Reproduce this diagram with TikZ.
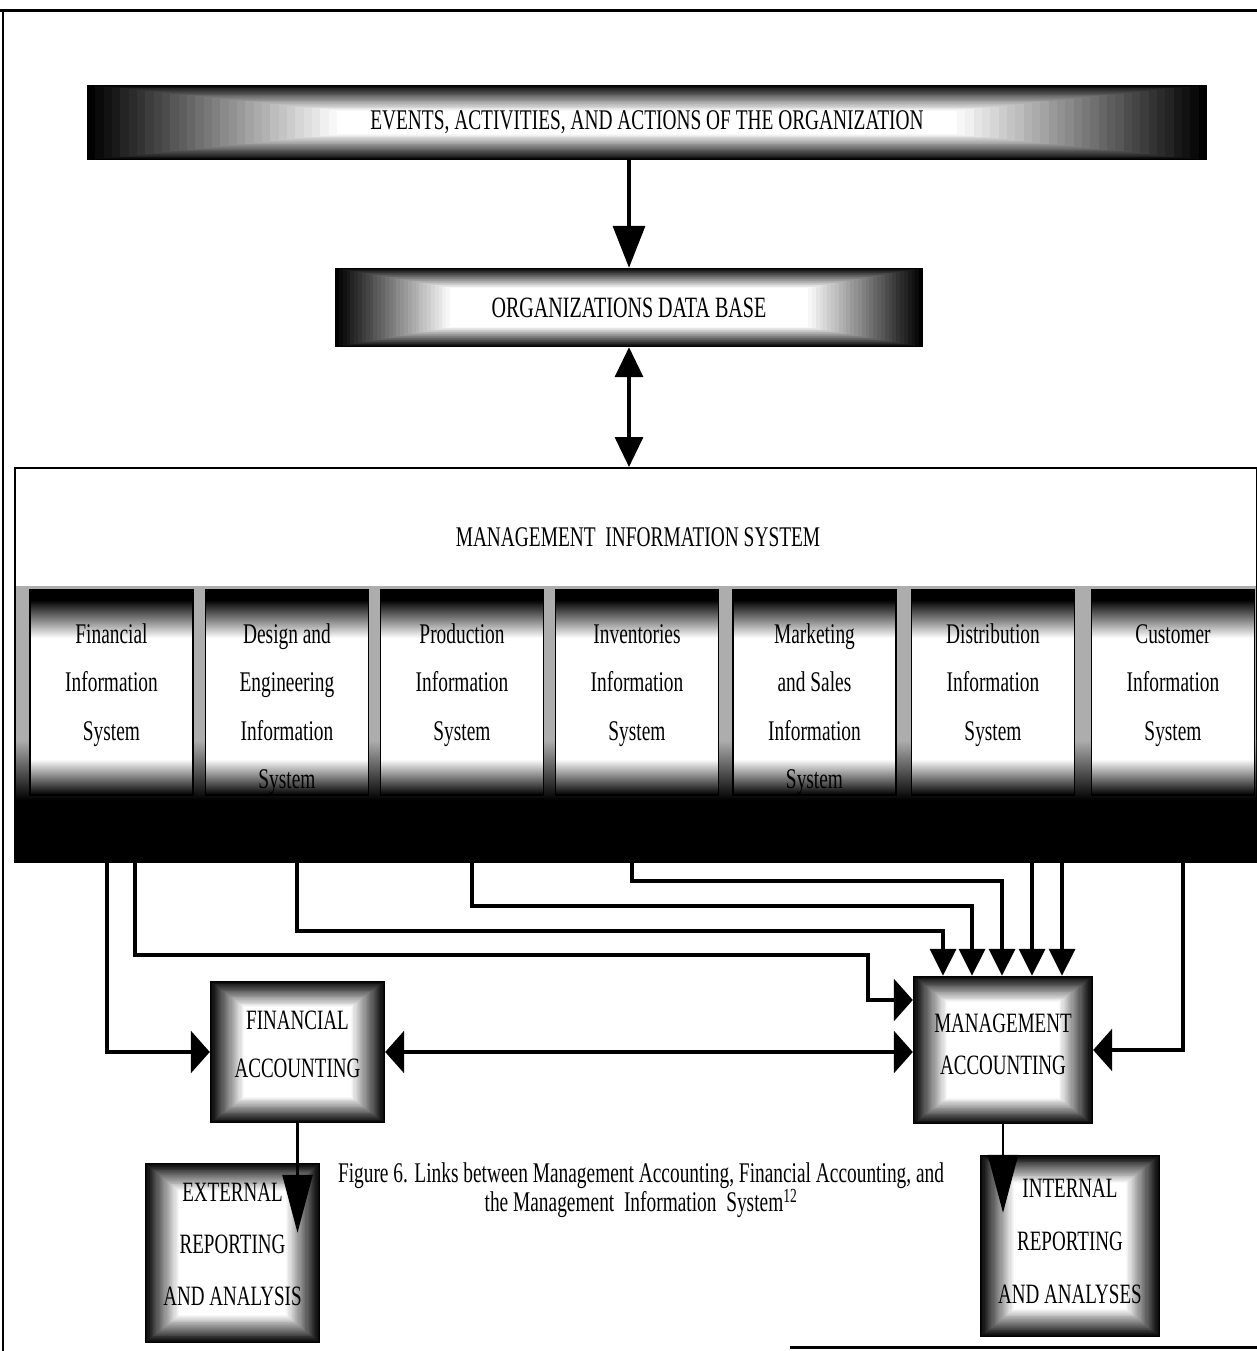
\documentclass[tikz,border=0pt]{standalone}
\usepackage{fontspec}
\setmainfont{Liberation Serif}
\newfontfamily\cf[FakeStretch=0.68]{Liberation Serif}
\usetikzlibrary{arrows.meta,calc}
\newcommand\sstxt[1]{\parbox[c][205pt][t]{158pt}{\centering\cf\fontsize{28.5}{48.5}\selectfont\rule{0pt}{53pt}#1}}
\tikzset{
  tipbig/.tip={Triangle[width=32pt,length=42pt]},
  tipdb/.tip={Triangle[width=28pt,length=30pt]},
  tiptop/.tip={Triangle[width=26pt,length=27pt]},
  tipside/.tip={Triangle[width=42pt,length=19pt]},
  tiprep/.tip={Triangle[width=30pt,length=58pt]},
}
\begin{document}
\begin{tikzpicture}[x=1pt,y=1pt,
  conn/.style={line width=3.5pt},
  glow/.style 2 args={fill=black, inner sep=0pt, path picture={
    \foreach \i in {0,...,30}{
      \pgfmathtruncatemacro\c{100-\i*100/30}
      \fill[black!\c] ($(path picture bounding box.north west)+({\i*#1/30*1pt},{-\i*#2/30*1pt})$) rectangle ($(path picture bounding box.south east)+({-\i*#1/30*1pt},{\i*#2/30*1pt})$);
    }}},
  subsys/.style={draw=black, line width=1.2pt, fill=white, inner sep=0pt,
    minimum width=163pt, minimum height=205pt,
    path picture={
      \fill[black] (path picture bounding box.north west) rectangle ([yshift=-10pt]path picture bounding box.north east);
      \shade[top color=black, bottom color=white] ([yshift=-10pt]path picture bounding box.north west) rectangle ([yshift=-48pt]path picture bounding box.north east);
      \shade[top color=white, bottom color=black] ([yshift=36pt]path picture bounding box.south west) rectangle (path picture bounding box.south east);
    }},
  boxtxt/.style={align=center, font=\cf\fontsize{28}{48}\selectfont},
]
\useasboundingbox (0,0) rectangle (1257,-1351);
% page frame
\draw[line width=3pt] (0,-11) -- (1257,-11);
\draw[line width=1.5pt] (3,-11) -- (3,-1351);
\draw[line width=3pt] (790,-1347) -- (1257,-1347);

% top boxes
\node[glow={250}{26}, minimum width=1120pt, minimum height=75pt] (ev) at (647,-122.5)
  {\cf\fontsize{28.5}{34}\selectfont\raisebox{-8pt}{EVENTS, ACTIVITIES, AND ACTIONS OF THE ORGANIZATION}};
\node[glow={115}{20}, minimum width=588pt, minimum height=79pt] (db) at (629,-307.5)
  {\cf\fontsize{29.5}{34}\selectfont\raisebox{-6pt}{ORGANIZATIONS DATA BASE}};

% management information system frame
\node[draw, line width=2pt, minimum width=1242pt, minimum height=394pt, inner sep=0pt] (mis) at (636,-665) {};
\fill[black!32] (16,-586) rectangle (1256,-790);
\shade[top color=black!32, bottom color=black] (16,-740) rectangle (1256,-800);
\fill[black] (16,-800) rectangle (1256,-861);
\node[font=\cf\fontsize{28.5}{34}\selectfont] (mistitle) at (638,-537) {MANAGEMENT\ \ INFORMATION SYSTEM};

\node[subsys] (s1) at (111.5,-692.5) {\sstxt{Financial\\Information\\System}};
\node[subsys] (s2) at (287,-692.5) {\sstxt{Design and\\Engineering\\Information\\System}};
\node[subsys] (s3) at (462,-692.5) {\sstxt{Production\\Information\\System}};
\node[subsys] (s4) at (637,-692.5) {\sstxt{Inventories\\Information\\System}};
\node[subsys] (s5) at (814.5,-692.5) {\sstxt{Marketing\\and Sales\\Information\\System}};
\node[subsys] (s6) at (993,-692.5) {\sstxt{Distribution\\Information\\System}};
\node[subsys] (s7) at (1173,-692.5) {\sstxt{Customer\\Information\\System}};

% accounting boxes
\node[glow={34}{26}, minimum width=175pt, minimum height=142pt, boxtxt, text depth=16pt] (fa) at (297.5,-1052) {FINANCIAL\\ACCOUNTING};
\node[glow={34}{26}, minimum width=180pt, minimum height=148pt, boxtxt, font=\cf\fontsize{28}{42}\selectfont, text depth=12pt] (ma) at (1003,-1050) {MANAGEMENT\\ACCOUNTING};
\node[glow={34}{28}, minimum width=175pt, minimum height=180pt, boxtxt, font=\cf\fontsize{28}{52}\selectfont, text depth=18pt] (erep) at (232.5,-1253) {EXTERNAL\\REPORTING\\AND ANALYSIS};
\node[glow={34}{28}, minimum width=180pt, minimum height=182pt, boxtxt, font=\cf\fontsize{28}{53}\selectfont, text depth=10pt] (irep) at (1070,-1246) {INTERNAL\\REPORTING\\AND ANALYSES};

% caption
\node[align=center, font=\cf\fontsize{28.5}{29}\selectfont] (cap) at (641,-1190)
  {Figure 6. Links between Management Accounting, Financial Accounting, and\\the Management\ \ Information\ \ System\textsuperscript{12}};

% start points on the MIS band
\coordinate (pA) at (107,-862);
\coordinate (pB) at (135,-862);
\coordinate (pC) at (297,-862);
\coordinate (pD) at (472,-862);
\coordinate (pE) at (632,-862);
\coordinate (pF) at (1032,-862);
\coordinate (pG) at (1062,-862);
\coordinate (pH) at (1183,-862);

% connectors
\draw[conn,-tipbig] (db.north |- ev.south) -- (db.north);
\draw[conn,tipdb-tipdb] (db.south) -- (db.south |- mis.north);

\draw[conn,-tipside] (pA) |- (fa.west);
\draw[conn,-tipside] (pB) |- (868,-955) |- ([yshift=50pt]ma.west);
\draw[conn,-tiptop] (pC) |- ($(ma.north)+(-60,45)$) -- ([xshift=-60pt]ma.north);
\draw[conn,-tiptop] (pD) |- ($(ma.north)+(-31,70)$) -- ([xshift=-31pt]ma.north);
\draw[conn,-tiptop] (pE) |- ($(ma.north)+(-1,95)$) -- ([xshift=-1pt]ma.north);
\draw[conn,-tiptop] (pF) -- ([xshift=29pt]ma.north);
\draw[conn,-tiptop] (pG) -- ([xshift=59pt]ma.north);
\draw[conn,-tipside] (pH) |- (ma.east);
\draw[conn,tipside-tipside] (fa.east) -- (fa.east -| ma.west);

\draw[line width=2.5pt,-tiprep,shorten >=-70pt] (fa.south) -- (fa.south |- erep.north);
\draw[line width=2.5pt,-tiprep,shorten >=-58pt] (ma.south) -- (ma.south |- irep.north);
\end{tikzpicture}
\end{document}
